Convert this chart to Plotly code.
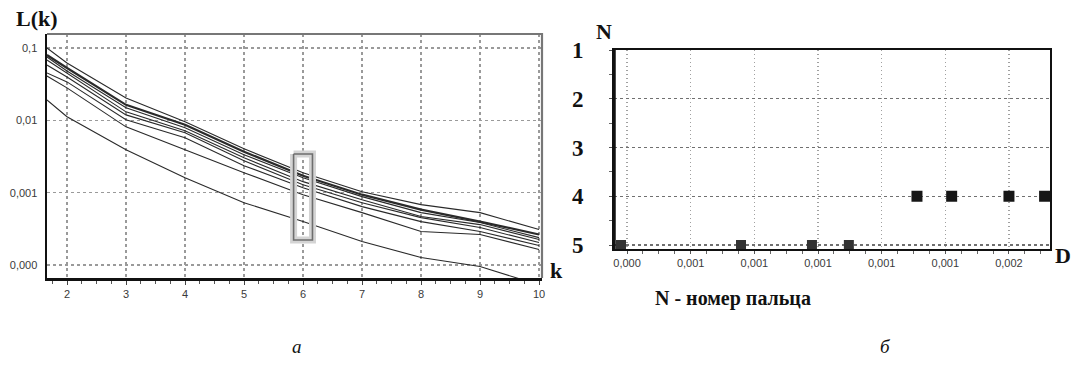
import plotly.graph_objects as go

# ---------------- data: left panel (a) ----------------
k = [1.66, 2, 3, 4, 5, 6, 7, 8, 9, 10]
L1 = [0.1, 0.0621, 0.0204, 0.00953, 0.00405, 0.00189, 0.00103, 0.000683, 0.000530, 0.000309]
L2 = [0.0800, 0.0530, 0.0164, 0.00867, 0.00368, 0.00171, 0.000938, 0.000583, 0.000398, 0.000264]
L3 = [0.0752, 0.0482, 0.0149, 0.00788, 0.00334, 0.00161, 0.000881, 0.000530, 0.000386, 0.000239]
L4 = [0.0683, 0.0452, 0.0131, 0.00716, 0.00304, 0.00142, 0.000800, 0.000467, 0.000362, 0.000225]
L5 = [0.0583, 0.0398, 0.0119, 0.00673, 0.00276, 0.00129, 0.000727, 0.000452, 0.000329, 0.000204]
L6 = [0.0452, 0.0340, 0.0102, 0.00574, 0.00236, 0.00117, 0.000641, 0.000398, 0.000290, 0.000186]
L7 = [0.0411, 0.0281, 0.00813, 0.00392, 0.00189, 0.000938, 0.000530, 0.000290, 0.000264, 0.000164]
L8 = [0.0192, 0.0112, 0.00392, 0.00161, 0.000727, 0.000398, 0.000211, 0.000127, 0.0000953, 0.0000530]
curves = {"L1": L1, "L2": L2, "L3": L3, "L4": L4, "L5": L5, "L6": L6, "L7": L7, "L8": L8}

box_k = [5.84, 6.16, 6.16, 5.84, 5.84]
box_L = [0.00342, 0.00342, 0.000222, 0.000222, 0.00342]

left_xticks = [2, 3, 4, 5, 6, 7, 8, 9, 10]
left_yticks = [0.0001, 0.001, 0.01, 0.1]
left_ytext = ["0,000", "0,001", "0,01", "0,1"]

# ---------------- data: right panel (б) ----------------
D_n5 = [0.000381, 0.000758, 0.000981, 0.001097]
N_n5 = [5, 5, 5, 5]
D_n4 = [0.001311, 0.001420, 0.001600, 0.001712]
N_n4 = [4, 4, 4, 4]

right_xticks = [0.0004, 0.0006, 0.0008, 0.0010, 0.0012, 0.0014, 0.0016]
right_xtext = ["0,000", "0,001", "0,001", "0,001", "0,001", "0,001", "0,002"]
right_yticks = [1, 2, 3, 4, 5]

W, H = 1073, 367
def px(x):
    return x / W
def py(y):
    return 1 - y / H

fig = go.Figure()

for name, vals in curves.items():
    fig.add_trace(go.Scatter(
        x=k, y=vals, mode="lines", xaxis="x", yaxis="y",
        line=dict(color="#2a2a2a", width=2.2 if name == "L2" else 1.1),
        showlegend=False, hoverinfo="skip"))

# highlight box at k = 6
fig.add_trace(go.Scatter(x=box_k, y=box_L, mode="lines", xaxis="x", yaxis="y",
                         line=dict(color="#d4d4d4", width=7), showlegend=False, hoverinfo="skip"))
fig.add_trace(go.Scatter(x=box_k, y=box_L, mode="lines", xaxis="x", yaxis="y",
                         line=dict(color="#6e6e6e", width=1.6), showlegend=False, hoverinfo="skip"))

fig.add_trace(go.Scatter(x=D_n5, y=N_n5, mode="markers", xaxis="x2", yaxis="y2",
                         marker=dict(symbol="square", size=10, color="#333333"),
                         showlegend=False, hoverinfo="skip"))
fig.add_trace(go.Scatter(x=D_n4, y=N_n4, mode="markers", xaxis="x2", yaxis="y2",
                         marker=dict(symbol="square", size=11, color="#161616"),
                         showlegend=False, hoverinfo="skip"))

tickfont = dict(family="Liberation Sans, Arial, sans-serif", size=11, color="#3a3a3a")
serif_b = "Liberation Serif, Times New Roman, serif"

fig.update_layout(
    template="none",
    width=W, height=H, margin=dict(l=0, r=0, t=0, b=0, autoexpand=False),
    paper_bgcolor="white", plot_bgcolor="white",
    xaxis=dict(domain=[px(47), px(542)], range=[1.661, 10.05], anchor="y", automargin=False,
               tickvals=left_xticks, ticktext=[str(v) for v in left_xticks],
               showgrid=True, gridcolor="#9a9a9a", griddash="3px,3px", gridwidth=1.2,
               showline=True, linecolor="#111", linewidth=2.5,
               ticks="outside", ticklen=4, tickcolor="#444", tickfont=tickfont,
               minor=dict(dtick=0.25, tick0=2, ticks="outside", ticklen=3, tickcolor="#555", showgrid=False),
               zeroline=False, fixedrange=True),
    yaxis=dict(domain=[py(278), py(34)], type="log", range=[-4.18, -0.806], anchor="x", automargin=False,
               tickvals=left_yticks, ticktext=left_ytext,
               showgrid=True, gridcolor="#9a9a9a", griddash="3px,3px", gridwidth=1.2,
               showline=True, linecolor="#111", linewidth=2.5,
               ticks="", tickfont=tickfont, ticklabelstandoff=5,
               zeroline=False, fixedrange=True),
    xaxis2=dict(domain=[px(614), px(1050)], range=[0.000359, 0.001729], anchor="y2", automargin=False,
                tickvals=right_xticks, ticktext=right_xtext,
                showgrid=True, gridcolor="#a0a0a0", griddash="1px,3px", gridwidth=1.2,
                showline=True, linecolor="#111", linewidth=2, mirror=True,
                ticks="outside", ticklen=3, tickcolor="#555", tickfont=tickfont,
                minor=dict(dtick=0.00005, tick0=0.0004, ticks="outside", ticklen=3, tickcolor="#666", showgrid=False),
                zeroline=False, fixedrange=True),
    yaxis2=dict(domain=[py(249), py(50)], range=[5.082, 1.0], anchor="x2", automargin=False,
                tickvals=right_yticks, ticktext=[str(v) for v in right_yticks],
                showgrid=True, gridcolor="#707070", griddash="3px,3px", gridwidth=1.2,
                showline=True, linecolor="#111", linewidth=2, mirror=True,
                ticks="outside", ticklen=3, tickcolor="#555",
                tickfont=dict(family=serif_b, size=23, color="#111", weight="bold"),
                ticklabelstandoff=21,
                minor=dict(dtick=0.5, tick0=1, ticks="outside", ticklen=3, tickcolor="#666", showgrid=False),
                zeroline=False, fixedrange=True),
)

# left panel frame: grey top/right; thick black left axis of right panel
fig.add_shape(type="path", xref="x domain", yref="y domain",
              path="M 0 1 L 1 1 L 1 0", line=dict(color="#777", width=2.2))
fig.add_shape(type="line", xref="x2 domain", yref="y2 domain", x0=0, x1=0, y0=0, y1=1,
              line=dict(color="#111", width=3.5))

ann = [
    dict(text="<b>L(k)</b>", x=px(37), y=py(19), size=22),
    dict(text="<b>k</b>", x=px(556), y=py(270), size=22),
    dict(text="<b>N</b>", x=px(604), y=py(32), size=22),
    dict(text="<b>D</b>", x=px(1063), y=py(255), size=22),
    dict(text="<b>N - номер пальца</b>", x=px(733), y=py(298), size=20),
    dict(text="<i>а</i>", x=px(297), y=py(346), size=19),
    dict(text="<i>б</i>", x=px(885), y=py(346), size=19),
]
for a in ann:
    fig.add_annotation(text=a["text"], x=a["x"], y=a["y"], xref="paper", yref="paper",
                       showarrow=False, xanchor="center", yanchor="middle",
                       font=dict(family=serif_b, size=a["size"], color="#111"))

fig.write_html("out.html", config={"displayModeBar": False, "staticPlot": True},
               post_script="document.body.style.margin='0';document.body.style.padding='0';")
